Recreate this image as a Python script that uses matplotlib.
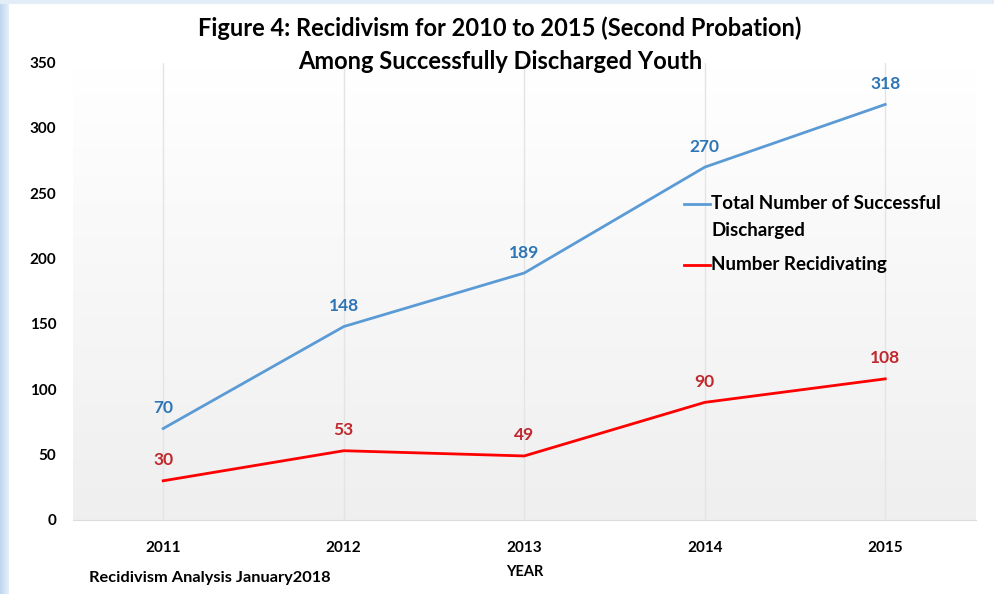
import matplotlib
matplotlib.use('Agg')
import matplotlib.pyplot as plt
import numpy as np
from matplotlib.colors import LinearSegmentedColormap
from matplotlib.lines import Line2D

plt.rcParams['font.family'] = ['Lato', 'DejaVu Sans']

# Datos
anios = ['2011', '2012', '2013', '2014', '2015']
total_descargados = [70, 148, 189, 270, 318]
reincidentes = [30, 53, 49, 90, 108]
y_ticks = [0, 50, 100, 150, 200, 250, 300, 350]

azul_linea = '#5B9BD5'
azul_texto = '#2E75B6'
rojo_linea = '#FF0000'
rojo_texto = '#C0282D'

fig = plt.figure(figsize=(9.94, 5.94), dpi=100)

# Franja azul a la izquierda y borde superior
borde = fig.add_axes([0, 0, 0.009, 1])
borde.imshow(np.linspace(0, 1, 50).reshape(1, -1), aspect='auto', extent=[0, 1, 0, 1],
             cmap=LinearSegmentedColormap.from_list('b', ['#BCD6EE', '#E6F0FA']))
borde.axis('off')
fig.add_artist(Line2D([0, 1], [0.997, 0.997], color='#E3EDF8', lw=3))

ax = fig.add_axes([0.0734, 0.1246, 0.908, 0.770])
x = np.arange(len(anios))

# Fondo con degradado blanco -> gris
grad = LinearSegmentedColormap.from_list('g', ['#EFEFEF', '#FFFFFF'])
ax.imshow(np.linspace(0, 1, 100).reshape(-1, 1), aspect='auto', cmap=grad,
          extent=[0, 1, 0, 1], transform=ax.transAxes, origin='lower', zorder=0)

ax.plot(x, total_descargados, color=azul_linea, lw=2, zorder=3)
ax.plot(x, reincidentes, color=rojo_linea, lw=2, zorder=3)

for xi, v in zip(x, total_descargados):
    ax.annotate(str(v), (xi, v), xytext=(0, 9), textcoords='offset points', ha='center', va='bottom',
                color=azul_texto, fontsize=12.5, fontweight='bold')
for xi, v in zip(x, reincidentes):
    ax.annotate(str(v), (xi, v), xytext=(0, 9), textcoords='offset points', ha='center', va='bottom',
                color=rojo_texto, fontsize=12.5, fontweight='bold')

ax.set_xlim(-0.5, len(anios) - 0.5)
ax.set_ylim(0, 350)
ax.set_xticks(x)
ax.set_xticklabels(anios, fontsize=11, fontweight='bold')
ax.set_yticks(y_ticks)
ax.set_yticklabels([str(t) for t in y_ticks], fontsize=11, fontweight='bold')
ax.tick_params(length=0, pad=12)
ax.tick_params(axis='x', pad=15)
ax.grid(True, axis='x', color='#E4E4E4', lw=1)
ax.set_axisbelow(True)
for s in ['top', 'right', 'left']:
    ax.spines[s].set_visible(False)
ax.spines['bottom'].set_color('#DCDCDC')

ax.set_xlabel('YEAR', fontsize=10.5, fontweight='bold', labelpad=7)

# Leyenda al estilo Excel: la línea junto a la primera línea del texto
leyenda = [(azul_linea, 'Total Number of Successful\nDischarged', 0.691),
           (rojo_linea, 'Number Recidivating', 0.558)]
for color, texto, yy in leyenda:
    ax.add_line(Line2D([0.677, 0.706], [yy, yy], transform=ax.transAxes, color=color, lw=2))
    ax.text(0.707, yy + 0.019, texto, transform=ax.transAxes, va='top', ha='left', fontsize=13.5,
            fontweight='bold', linespacing=1.7)

fig.suptitle('Figure 4: Recidivism for 2010 to 2015 (Second Probation)\nAmong Successfully Discharged Youth',
             x=0.503, y=0.972, fontsize=17, fontweight='bold', linespacing=1.5)
fig.text(0.09, 0.02, 'Recidivism Analysis January2018', fontsize=11.8, fontweight='bold')

fig.savefig('out.png', dpi=100)
